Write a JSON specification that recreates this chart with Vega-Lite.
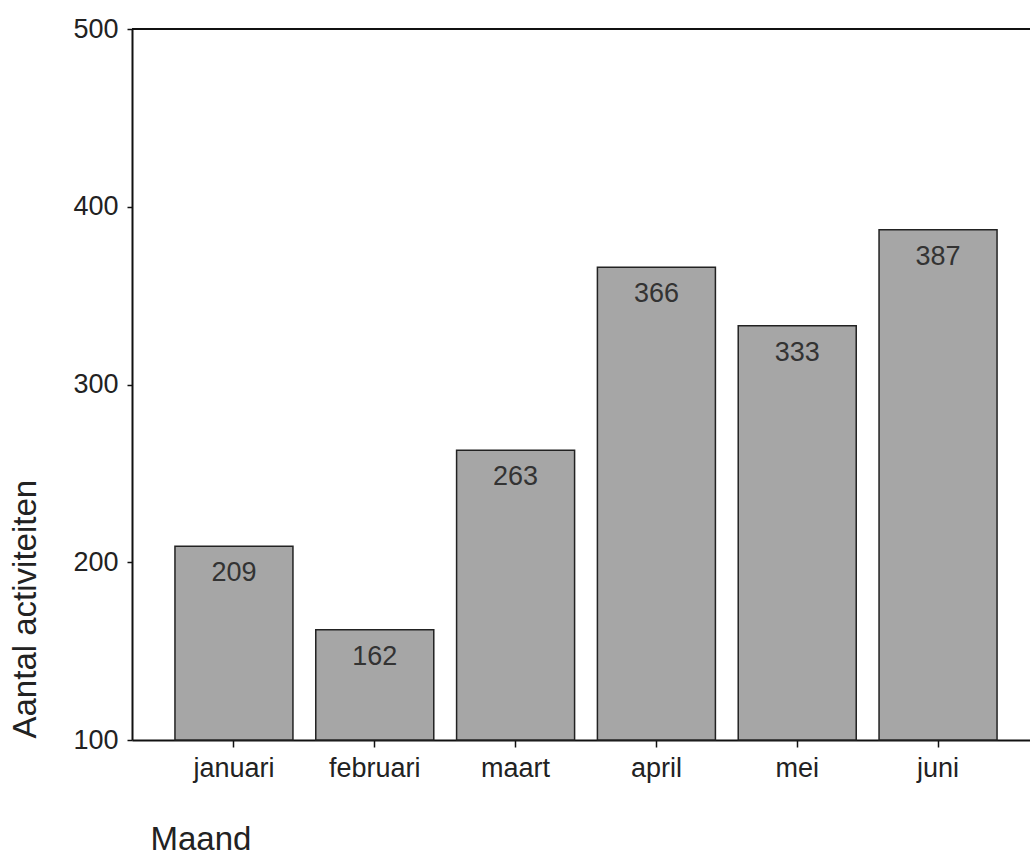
{
  "$schema": "https://vega.github.io/schema/vega-lite/v6.json",
  "autosize": "none",
  "padding": {"left": 132, "top": 29, "right": 0, "bottom": 124},
  "width": 908,
  "height": 711,
  "background": "white",
  "config": {
    "view": {"stroke": null},
    "font": "Liberation Sans",
    "axis": {"grid": false, "domainColor": "#111", "domainWidth": 2, "tickColor": "#111", "tickWidth": 1.5, "labelColor": "#222", "titleColor": "#222", "labelFontSize": 27, "titleFontSize": 33, "titleFontWeight": "normal", "labelFont": "Liberation Sans", "titleFont": "Liberation Sans"}
  },
  "data": {"values": [
    {"Maand": "januari", "Aantal": 209},
    {"Maand": "februari", "Aantal": 162},
    {"Maand": "maart", "Aantal": 263},
    {"Maand": "april", "Aantal": 366},
    {"Maand": "mei", "Aantal": 333},
    {"Maand": "juni", "Aantal": 387}
  ]},
  "layer": [
    {
      "mark": {"type": "bar", "fill": "#a6a6a6", "stroke": "#222", "strokeWidth": 1.5},
      "encoding": {
        "x": {"field": "Maand", "type": "nominal", "sort": null,
          "scale": {"paddingInner": 0.162, "paddingOuter": 0.305},
          "axis": {"labelAngle": 0, "tickSize": 7, "labelPadding": 8, "labelBaseline": "top", "title": "Maand", "titleAnchor": "start", "titleX": 18, "titleY": 109, "titleAlign": "left", "titleBaseline": "alphabetic"}},
        "y": {"field": "Aantal", "type": "quantitative",
          "scale": {"domain": [100, 500], "zero": false, "nice": false},
          "axis": {"values": [100, 200, 300, 400, 500], "tickSize": 5, "labelPadding": 9, "title": "Aantal activiteiten", "titleAngle": 270, "titleX": -97, "titleY": 709, "titleAlign": "left", "titleBaseline": "alphabetic"}},
        "y2": {"datum": 100}
      }
    },
    {
      "mark": {"type": "text", "fontSize": 27, "dy": 35, "baseline": "alphabetic", "color": "#333", "font": "Liberation Sans"},
      "encoding": {
        "x": {"field": "Maand", "type": "nominal", "sort": null},
        "y": {"field": "Aantal", "type": "quantitative"},
        "text": {"field": "Aantal", "type": "quantitative"}
      }
    },
    {
      "mark": {"type": "rule", "color": "#111", "strokeWidth": 2},
      "encoding": {"y": {"datum": 500}}
    }
  ]
}
